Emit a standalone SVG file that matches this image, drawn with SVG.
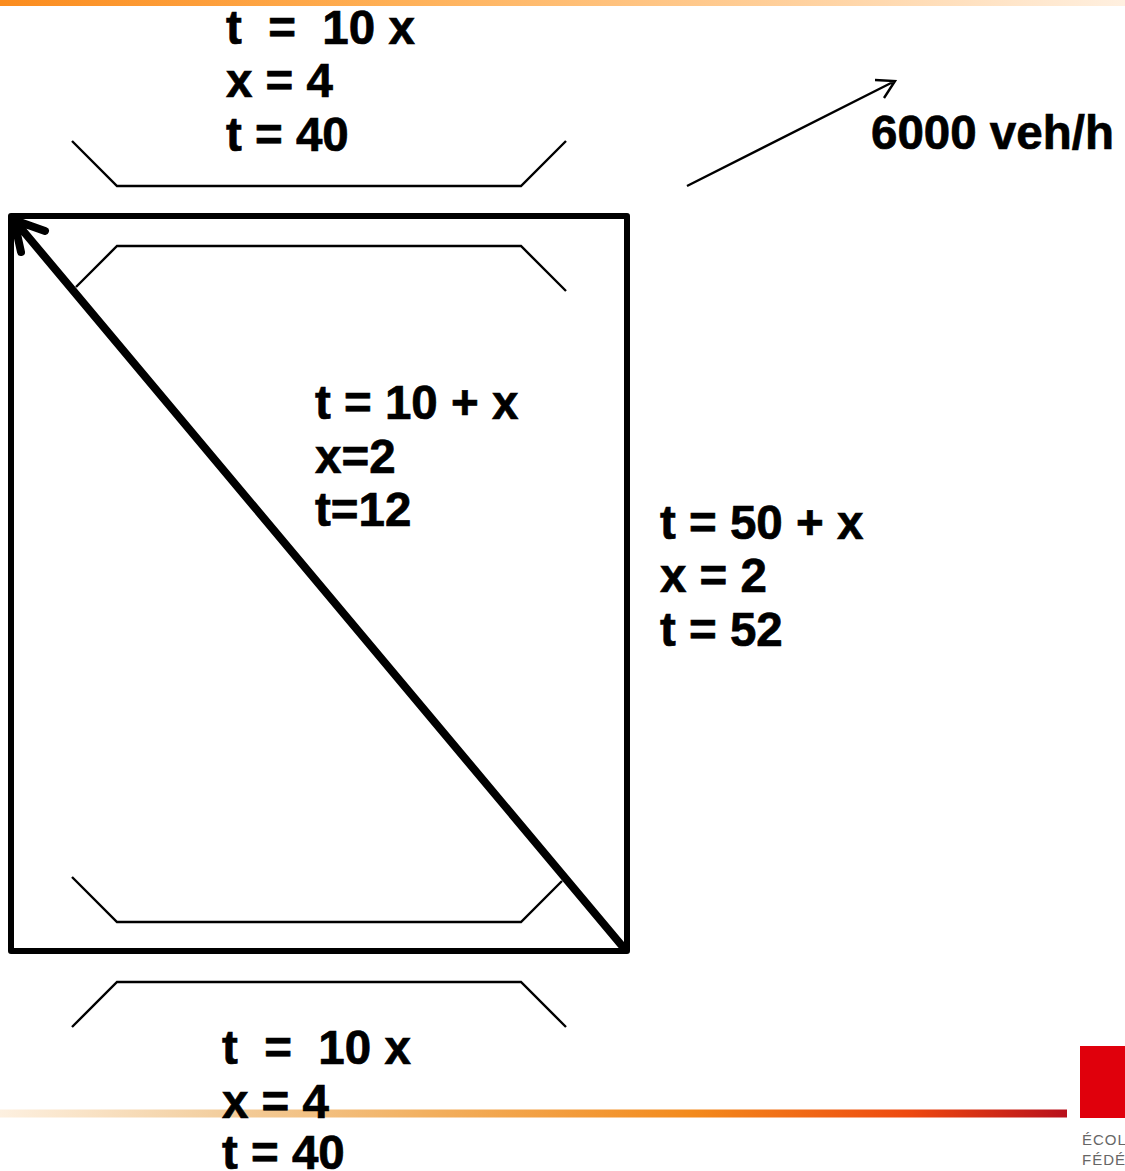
<svg xmlns="http://www.w3.org/2000/svg" width="1125" height="1171" viewBox="0 0 1125 1171">
<style>
.t{font-family:"Liberation Sans",Arial,sans-serif;font-weight:700;font-size:47.5px;fill:#000;stroke:#000;stroke-width:.7;white-space:pre}
.thin{fill:none;stroke:#000;stroke-width:2.4;stroke-linejoin:miter}
.thick{fill:none;stroke:#000;stroke-width:6;stroke-linecap:round;stroke-linejoin:round}
.diag{fill:none;stroke:#000;stroke-width:8;stroke-linecap:round;stroke-linejoin:round}
.logo{font-family:"Liberation Sans",Arial,sans-serif;font-size:15px;fill:#666;letter-spacing:1px}
</style>
<defs>
<linearGradient id="top" x1="0" x2="1" y1="0" y2="0"><stop offset="0" stop-color="#fb8c1e"/><stop offset=".35" stop-color="#ffb056"/><stop offset=".7" stop-color="#ffd09c"/><stop offset="1" stop-color="#fff0e0"/></linearGradient>
<linearGradient id="bot" x1="0" x2="1" y1="0" y2="0"><stop offset="0" stop-color="#fdf0e0"/><stop offset=".2" stop-color="#f3cfa0"/><stop offset=".4" stop-color="#f2b060"/><stop offset=".65" stop-color="#f38a1c"/><stop offset=".85" stop-color="#ee4a10"/><stop offset="1" stop-color="#b8101c"/></linearGradient>
</defs>
<rect width="1125" height="1171" fill="#fff"/>
<g id="decor">
<rect x="0" y="0" width="1125" height="6" fill="url(#top)"/>
<rect x="0" y="1109.500" width="1067" height="8" fill="url(#bot)"/>
</g>
<g id="logo">
<rect x="1080" y="1046" width="45" height="72" fill="#e0000c"/>
<text class="logo" x="1082" y="1145">ÉCOL</text>
<text class="logo" x="1082" y="1165">FÉDÉ</text>
</g>
<g id="connectors">
<path class="thin" d="M72 141L117 186H521L566 141"/>
<path class="thin" d="M76 287L117 246H521L566 291"/>
<path class="thin" d="M72 877L117 922H521L562 881"/>
<path class="thin" d="M72 1027L117 982H521L566 1027"/>
<path class="thin" d="M687 186L895 81M875 80L895 81L884 98"/>
<rect class="thick" x="11" y="216" width="616" height="735"/>
<path class="diag" d="M623 947L14 220M21 252L14 220L45 231"/>
</g>
<g id="label-top">
<text class="t" x="226" y="44">t  =  10 x</text>
<text class="t" x="226" y="97">x = 4</text>
<text class="t" x="226" y="151">t = 40</text>
</g>
<g id="label-diagonal">
<text class="t" x="315" y="419">t = 10 + x</text>
<text class="t" x="315" y="473">x=2</text>
<text class="t" x="315" y="526">t=12</text>
</g>
<g id="label-right">
<text class="t" x="660" y="539">t = 50 + x</text>
<text class="t" x="660" y="592">x = 2</text>
<text class="t" x="660" y="646">t = 52</text>
</g>
<g id="label-bottom">
<text class="t" x="222" y="1064">t  =  10 x</text>
<text class="t" x="222" y="1118">x = 4</text>
<text class="t" x="222" y="1169">t = 40</text>
</g>
<g id="label-flow">
<text class="t" x="871" y="149">6000 veh/h</text>
</g>
</svg>
